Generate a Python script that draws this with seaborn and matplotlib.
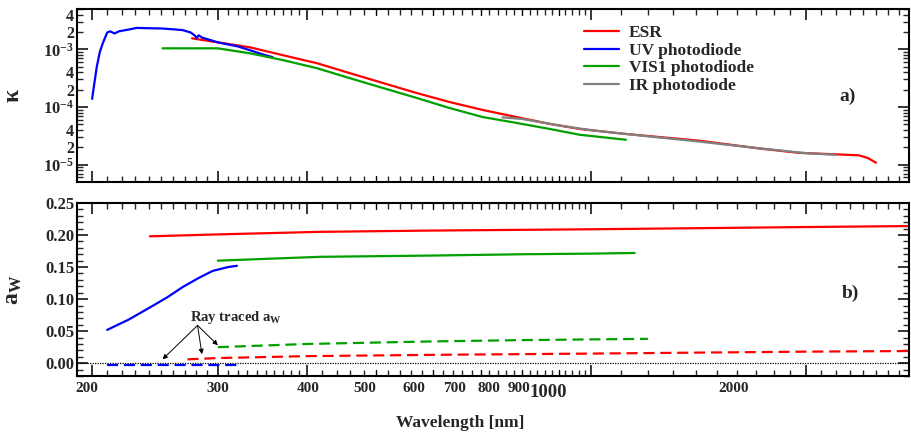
import numpy as np
import pandas as pd
import matplotlib
matplotlib.use("Agg")
import matplotlib.pyplot as plt
import matplotlib.ticker as mticker
import matplotlib.transforms as mtransforms
import seaborn as sns

# ---------------- data ----------------
# panel a) kappa
uv_wl = [200, 203, 205, 207, 210, 212, 215, 218, 225, 231, 240, 250, 260, 268, 275, 279, 280, 282, 285, 290, 300, 320, 333, 345, 358]
uv_k = [1.38e-4, 4.9e-4, 8.9e-4, 1.27e-3, 1.96e-3, 2.05e-3, 1.88e-3, 2.05e-3, 2.2e-3, 2.35e-3, 2.32e-3, 2.3e-3, 2.22e-3, 2.15e-3, 1.95e-3, 1.7e-3, 1.55e-3, 1.75e-3, 1.6e-3, 1.5e-3, 1.32e-3, 1.12e-3, 9.6e-4, 8.3e-4, 7.3e-4]

esr_wl = [276, 300, 333, 370, 413, 459, 511, 570, 633, 704, 785, 874, 963, 1118, 1418, 1722, 1953, 2226, 2371, 2440, 2504]
esr_k = [1.55e-3, 1.32e-3, 1.08e-3, 7.9e-4, 5.74e-4, 3.86e-4, 2.6e-4, 1.74e-4, 1.22e-4, 8.9e-5, 6.7e-5, 5.1e-5, 4.16e-5, 3.4e-5, 2.6e-5, 1.9e-5, 1.6e-5, 1.5e-5, 1.45e-5, 1.3e-5, 1.08e-5]

vis_wl = [251, 300, 333, 370, 413, 459, 511, 570, 633, 704, 785, 874, 963, 1118]
vis_k = [1.04e-3, 1.04e-3, 8.5e-4, 6.5e-4, 4.7e-4, 3.16e-4, 2.13e-4, 1.43e-4, 9.6e-5, 6.7e-5, 5.3e-5, 4.16e-5, 3.3e-5, 2.7e-5]

ir_wl = [751, 800, 900, 1000, 1200, 1400, 1700, 2000, 2200]
ir_k = [6.6e-5, 6.2e-5, 4.8e-5, 3.95e-5, 3.1e-5, 2.55e-5, 1.95e-5, 1.58e-5, 1.48e-5]

# panel b) a_W (solid: measured, dashed: ray traced)
esr_aw_wl = [241, 300, 417, 600, 1000, 1500, 2000, 2800]
esr_aw = [0.198, 0.201, 0.205, 0.207, 0.209, 0.211, 0.2125, 0.214]
vis_aw_wl = [300, 417, 600, 800, 1000, 1150]
vis_aw = [0.160, 0.166, 0.168, 0.170, 0.171, 0.172]
uv_aw_wl = [210, 225, 241, 255, 268, 282, 295, 310, 319]
uv_aw = [0.052, 0.068, 0.087, 0.103, 0.119, 0.133, 0.144, 0.150, 0.152]

esr_rt_wl = [272, 300, 400, 600, 1000, 2000, 2800]
esr_rt = [0.006, 0.008, 0.011, 0.013, 0.015, 0.018, 0.019]
vis_rt_wl = [300, 400, 600, 800, 1200]
vis_rt = [0.025, 0.030, 0.034, 0.036, 0.038]
uv_rt_wl = [210, 250, 300, 319]
uv_rt = [-0.003, -0.003, -0.003, -0.003]

# annotation targets (wavelength, a_W)
arrow_wl = [251, 285, 300]
arrow_aw = [0.006, 0.014, 0.028]

xtick_labels = ["200", "300", "400", "500", "600", "700", "800", "900", "1000", "2000"]
series_names = ["ESR", "UV photodiode", "VIS1 photodiode", "IR photodiode"]

# ---------------- style ----------------
RED, BLUE, GREEN, GRAY = "#ff0000", "#0000ff", "#00a000", "#808080"
sns.set_theme(style="ticks")
plt.rcParams["font.family"] = ["Liberation Serif", "DejaVu Serif"]
plt.rcParams["font.weight"] = "bold"
plt.rcParams["mathtext.fontset"] = "custom"
plt.rcParams["mathtext.rm"] = "Liberation Serif:bold"
plt.rcParams["mathtext.bf"] = "Liberation Serif:bold"
plt.rcParams["mathtext.it"] = "Liberation Serif:bold"
plt.rcParams["mathtext.default"] = "rm"

W, H = 912, 438
fig = plt.figure(figsize=(W / 100, H / 100), dpi=100)
L, R = 77, 909
ax1 = fig.add_axes([L / W, 1 - 182 / H, (R - L) / W, 173 / H])
ax2 = fig.add_axes([L / W, 1 - 376 / H, (R - L) / W, 173 / H])

XLIM = (190.5, 2785)
LW = 1.6


def line(ax, x, y, color, label=None, ls="-", dashes=None):
    sns.lineplot(x=x, y=y, ax=ax, color=color, linewidth=LW, label=label,
                 estimator=None, sort=False, legend=False)
    ln = ax.get_lines()[-1]
    if ls != "-":
        ln.set_dashes(dashes)
    return ln


# ---------- panel a ----------
h_esr = line(ax1, esr_wl, esr_k, RED)
h_uv = line(ax1, uv_wl, uv_k, BLUE)
h_vis = line(ax1, vis_wl, vis_k, GREEN)
h_ir = line(ax1, ir_wl, ir_k, GRAY)
ax1.set_xscale("log")
ax1.set_yscale("log")
ax1.set_xlim(*XLIM)
ax1.set_ylim(5e-6, 5e-3)

ax1.yaxis.set_major_locator(mticker.FixedLocator([1e-5, 1e-4, 1e-3]))
ax1.yaxis.set_major_formatter(mticker.FixedFormatter(["10$^{-5}$", "10$^{-4}$", "10$^{-3}$"]))
minor_y = [m * 10.0 ** e for e in (-6, -5, -4, -3) for m in range(2, 10)]
minor_y = [v for v in minor_y if 5e-6 <= v <= 5e-3]
ax1.yaxis.set_minor_locator(mticker.FixedLocator(minor_y))
ax1.yaxis.set_minor_formatter(mticker.FuncFormatter(
    lambda v, p: ("%d" % round(v / 10 ** np.floor(np.log10(v) + 1e-9))) if round(v / 10 ** np.floor(np.log10(v) + 1e-9)) in (2, 4) else ""))
ax1.set_ylabel("κ", fontsize=17, fontweight="bold")
ax1.yaxis.set_label_coords(-0.064, 0.5)

leg = ax1.legend([h_esr, h_uv, h_vis, h_ir], series_names, loc="upper left",
                 bbox_to_anchor=((584 - L) / (R - L), 1 - (25 - 9) / 173),
                 frameon=False, fontsize=12.5, handlelength=2.0, handletextpad=0.6,
                 labelspacing=0.08, borderpad=0, borderaxespad=0)
for t in leg.get_texts():
    t.set_fontweight("bold")
ax1.text((848 - L) / (R - L), 1 - (96 - 9) / 173, "a)", transform=ax1.transAxes,
         fontsize=14, fontweight="bold", ha="center", va="center")

# ---------- panel b ----------
line(ax2, esr_aw_wl, esr_aw, RED)
line(ax2, vis_aw_wl, vis_aw, GREEN)
line(ax2, uv_aw_wl, uv_aw, BLUE)
line(ax2, esr_rt_wl, esr_rt, RED, ls="--", dashes=(5, 2.6))
line(ax2, vis_rt_wl, vis_rt, GREEN, ls="--", dashes=(5, 2.6))
line(ax2, uv_rt_wl, uv_rt, BLUE, ls="--", dashes=(5, 2.6))
ax2.axhline(0.0, color="black", linewidth=0.9, linestyle=(0, (1, 1)), zorder=1)
ax2.set_xscale("log")
ax2.set_xlim(*XLIM)
ax2.set_ylim(-0.02, 0.25)
ax2.yaxis.set_major_locator(mticker.MultipleLocator(0.05))
ax2.yaxis.set_minor_locator(mticker.MultipleLocator(0.01))
ax2.yaxis.set_major_formatter(mticker.FormatStrFormatter("%.2f"))
ax2.set_ylabel("a$_{\\mathregular{W}}$", fontsize=17, fontweight="bold")
ax2.yaxis.set_label_coords(-0.064, 0.5)
ax2.text((850 - L) / (R - L), 1 - (293 - 203) / 173, "b)", transform=ax2.transAxes,
         fontsize=14, fontweight="bold", ha="center", va="center")

ax2.text(318, 0.071, "Ray traced a$_{\\mathregular{W}}$", fontsize=10.5, fontweight="bold",
         ha="center", va="center")
for xw, yw in zip(arrow_wl, arrow_aw):
    ax2.annotate("", xy=(xw, yw), xytext=(281, 0.059),
                 arrowprops=dict(arrowstyle="-|>", color="black", lw=0.7,
                                 mutation_scale=7, shrinkA=0, shrinkB=0))

# ---------- x ticks (both panels) ----------
major_x = [200, 300, 400, 1000, 2000]
mid_x = [500, 600, 700, 800, 900]
minor_x = list(range(200, 400, 10)) + list(range(400, 1000, 20)) + list(range(1000, 2800, 100))
minor_x = [v for v in minor_x if v not in major_x and v not in mid_x]

for ax in (ax1, ax2):
    ax.xaxis.set_major_locator(mticker.FixedLocator(major_x))
    ax.xaxis.set_minor_locator(mticker.FixedLocator(minor_x))
    ax.xaxis.set_major_formatter(mticker.NullFormatter())
    ax.xaxis.set_minor_formatter(mticker.NullFormatter())
    for v in mid_x:
        ax.axvline(v, ymin=0, ymax=0.035, color="black", lw=1.0, zorder=0.5)
        ax.axvline(v, ymin=0.965, ymax=1, color="black", lw=1.0, zorder=0.5)
    ax.tick_params(which="major", direction="in", length=8, width=1.3, top=True, right=True,
                   labelsize=12, pad=2)
    ax.tick_params(which="minor", direction="in", length=4, width=1.0, top=True, right=True,
                   labelsize=11.5, pad=2)
    for s in ax.spines.values():
        s.set_linewidth(1.5)
        s.set_color("black")
    for lab in ax.get_yticklabels(which="both"):
        lab.set_fontweight("bold")

# x tick labels (placed where the reference prints them)
xlabel_px = [87, 218, 308, 365, 414, 455, 489, 519, 548, 734]
trans = mtransforms.blended_transform_factory(ax2.transAxes, ax2.transAxes)
for lab, px in zip(xtick_labels, xlabel_px):
    big = lab == "1000"
    ax2.text((px - L) / (R - L), -(388 - 376) / 173 - (0.025 if big else 0), lab,
             transform=trans, ha="center", va="center",
             fontsize=13.5 if big else 11, fontweight="bold")

ax2.text((460 - L) / (R - L), -(423 - 376) / 173, "Wavelength [nm]", transform=ax2.transAxes,
         ha="center", va="center", fontsize=12.5, fontweight="bold")

fig.savefig("out.png", dpi=100)
